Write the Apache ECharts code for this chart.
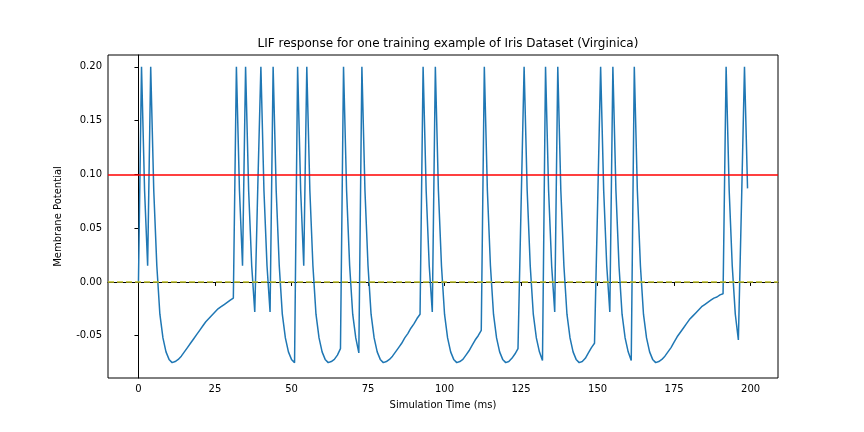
<!DOCTYPE html>
<html>
<head>
<meta charset="utf-8">
<script src="https://cdn.jsdelivr.net/npm/echarts@6/dist/echarts.min.js"></script>
<style>body{margin:0}#c{width:864px;height:432px}</style>
</head>
<body>
<div id="c"></div>
<script>
var xTicks = [0, 25, 50, 75, 100, 125, 150, 175, 200];
var yTicks = [-0.05, 0, 0.05, 0.1, 0.15, 0.2];
var threshold = 0.1;
var restLevel = 0;
// membrane potential, one value per ms (t = 0..199)
var membrane = [
  0, 0.2, 0.085, 0.015, 0.2, 0.085, 0.015, -0.03, -0.052, -0.065, -0.072, -0.075,
  -0.074, -0.072, -0.069, -0.065, -0.061, -0.057, -0.053, -0.049, -0.045, -0.041,
  -0.037, -0.034, -0.031, -0.028, -0.025, -0.023, -0.021, -0.019, -0.017, -0.015,
  0.2, 0.085, 0.015, 0.2, 0.085, 0.015, -0.028, 0.09, 0.2, 0.085, 0.015, -0.028,
  0.2, 0.085, 0.015, -0.03, -0.052, -0.065, -0.072, -0.075, 0.2, 0.085, 0.015,
  0.2, 0.085, 0.015, -0.03, -0.052, -0.065, -0.072, -0.075, -0.074, -0.072, -0.068, -0.062,
  0.2, 0.085, 0.015, -0.03, -0.052, -0.066,
  0.2, 0.085, 0.015, -0.03, -0.052, -0.065, -0.072, -0.075,
  -0.074, -0.072, -0.069, -0.065, -0.061, -0.057, -0.052, -0.048, -0.043, -0.039, -0.034, -0.030,
  0.2, 0.085, 0.015, -0.028,
  0.2, 0.085, 0.015, -0.03, -0.052, -0.065, -0.072, -0.075,
  -0.074, -0.072, -0.068, -0.064, -0.059, -0.054, -0.05, -0.045,
  0.2, 0.085, 0.015, -0.03, -0.052, -0.065, -0.072, -0.075,
  -0.074, -0.071, -0.067, -0.062, 0.07,
  0.2, 0.085, 0.015, -0.03, -0.052, -0.065, -0.073,
  0.2, 0.085, 0.015, -0.028,
  0.2, 0.085, 0.015, -0.03, -0.052, -0.065, -0.072, -0.075,
  -0.074, -0.071, -0.066, -0.061, -0.057, 0.07,
  0.2, 0.085, 0.015, -0.028,
  0.2, 0.085, 0.015, -0.03, -0.052, -0.065, -0.073,
  0.2, 0.085, 0.015, -0.03, -0.052, -0.065, -0.072, -0.075,
  -0.074, -0.072, -0.069, -0.065, -0.061, -0.056, -0.051, -0.047, -0.043, -0.039, -0.035,
  -0.032, -0.029, -0.026, -0.023, -0.021, -0.019, -0.017, -0.015, -0.014, -0.012, -0.011,
  0.2, 0.085, 0.015, -0.03, -0.054, 0.07, 0.2, 0.087
];

var chart = echarts.init(document.getElementById('c'));
var font = 'DejaVu Sans';
chart.setOption({
  animation: false,
  textStyle: { fontFamily: font },
  title: {
    text: 'LIF response for one training example of Iris Dataset (Virginica)',
    left: 443, top: 33, textAlign: 'center',
    textStyle: { fontSize: 12, fontWeight: 'normal', color: '#000', fontFamily: font }
  },
  grid: { left: 108, right: 86, top: 55, bottom: 54, show: true, borderColor: '#000', borderWidth: 1 },
  xAxis: {
    type: 'value', min: -9.95, max: 208.95,
    name: 'Simulation Time (ms)', nameLocation: 'middle', nameGap: 22,
    nameTextStyle: { fontSize: 10, color: '#000' },
    axisLine: { lineStyle: { color: '#000' } },
    axisTick: { show: true, length: 4, inside: false, customValues: xTicks, lineStyle: { color: '#000' } },
    axisLabel: { customValues: xTicks, fontSize: 10, color: '#000', margin: 6 },
    splitLine: { show: false }
  },
  yAxis: {
    type: 'value', min: -0.0893, max: 0.211,
    name: 'Membrane Potential', nameLocation: 'middle', nameGap: 45,
    nameTextStyle: { fontSize: 10, color: '#000' },
    axisLine: { show: true, lineStyle: { color: '#000' } },
    axisTick: { show: true, length: 4, customValues: yTicks, lineStyle: { color: '#000' } },
    axisLabel: { customValues: yTicks, fontSize: 10, color: '#000', margin: 6,
      formatter: function (v) { return v.toFixed(2); } },
    splitLine: { show: false }
  },
  series: [{
    type: 'line',
    data: membrane.map(function (v, i) { return [i, v]; }),
    showSymbol: false,
    lineStyle: { color: '#1f77b4', width: 1.5 },
    markLine: {
      silent: true, symbol: 'none', label: { show: false },
      data: [
        { yAxis: threshold, lineStyle: { color: '#ff0000', type: 'solid', width: 1.5 } },
        { yAxis: restLevel, lineStyle: { color: '#bcbd22', type: [6, 3], width: 1.5 } }
      ]
    }
  }]
});
</script>
</body>
</html>
